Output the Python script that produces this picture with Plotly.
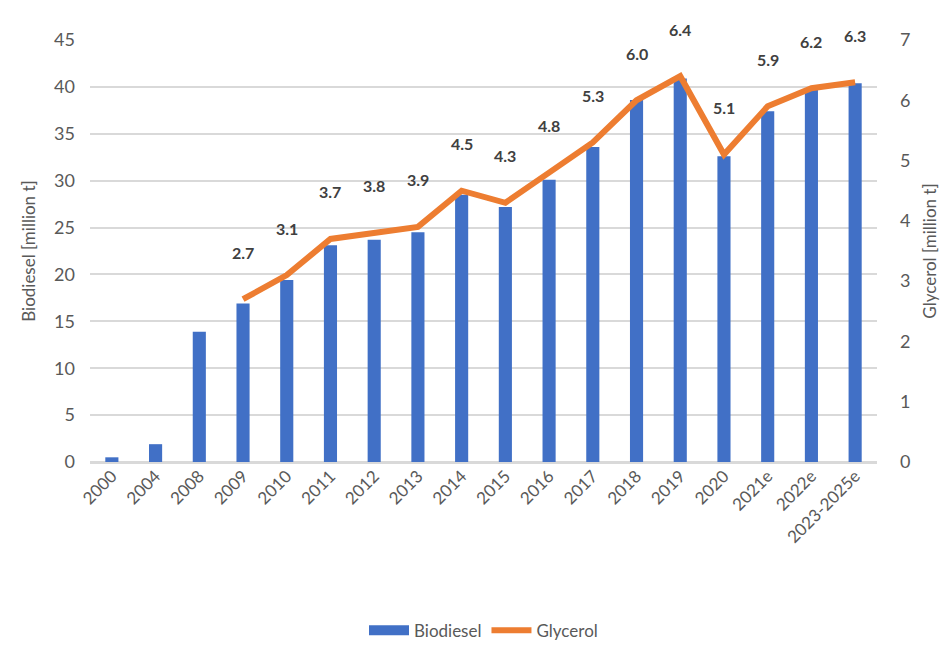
import plotly.graph_objects as go

categories = ["2000", "2004", "2008", "2009", "2010", "2011", "2012", "2013", "2014",
              "2015", "2016", "2017", "2018", "2019", "2020", "2021e", "2022e", "2023-2025e"]
biodiesel = [0.5, 1.9, 13.9, 16.9, 19.4, 23.1, 23.7, 24.5, 28.5,
             27.2, 30.1, 33.6, 38.6, 40.9, 32.6, 37.4, 39.8, 40.4]
glycerol = [None, None, None, 2.7, 3.1, 3.7, 3.8, 3.9, 4.5,
            4.3, 4.8, 5.3, 6.0, 6.4, 5.1, 5.9, 6.2, 6.3]
left_ticks = [0, 5, 10, 15, 20, 25, 30, 35, 40, 45]
right_ticks = [0, 1, 2, 3, 4, 5, 6, 7]

FONT = "Lato"
GRAY = "#595959"
BLUE = "#4170C6"
ORANGE = "#ED7D31"

fig = go.Figure()
fig.add_trace(go.Bar(x=categories, y=biodiesel, name="Biodiesel",
                     marker=dict(color=BLUE, line=dict(width=0)), width=0.3,
                     yaxis="y", showlegend=False))
fig.add_trace(go.Scatter(x=categories, y=glycerol, name="Glycerol", mode="lines",
                         line=dict(color=ORANGE, width=6), yaxis="y2",
                         connectgaps=False, showlegend=False))
# legend entries
fig.add_trace(go.Scatter(x=[None], y=[None], name="Biodiesel", mode="lines",
                         line=dict(color=BLUE, width=14), yaxis="y"))
fig.add_trace(go.Scatter(x=[None], y=[None], name="Glycerol", mode="lines",
                         line=dict(color=ORANGE, width=6), yaxis="y2"))

for i, v in enumerate(glycerol):
    if v is None:
        continue
    fig.add_annotation(x=i, y=v, xref="x", yref="y2", text=f"<b>{v:.1f}</b>",
                       showarrow=False, yshift=47,
                       font=dict(family=FONT, size=16, color="#404040"))

fig.update_layout(
    width=950, height=648,
    margin=dict(l=90, r=73, t=40, b=186, autoexpand=False),
    paper_bgcolor="white", plot_bgcolor="white",
    font=dict(family=FONT, size=16, color=GRAY),
    showlegend=True,
    legend=dict(orientation="h", x=0.5, xanchor="center", y=-0.40, yanchor="middle",
                font=dict(family=FONT, size=17, color=GRAY), itemwidth=40),
    xaxis=dict(type="category", categoryorder="array", categoryarray=categories,
               range=[-0.5, len(categories) - 0.5], automargin=False,
               tickangle=-45, showgrid=False, showline=False, ticks="",
               tickfont=dict(family=FONT, size=17, color=GRAY)),
    yaxis=dict(range=[0, 45], tickvals=left_ticks, showgrid=True, gridcolor="#D9D9D9",
               gridwidth=2, zeroline=True, zerolinecolor="#D9D9D9", zerolinewidth=2.5,
               showline=False, ticks="", ticklen=0, automargin=False,
               ticklabelstandoff=14,
               title=dict(text="Biodiesel [million t]", standoff=14,
                          font=dict(family=FONT, size=17, color=GRAY)),
               tickfont=dict(family=FONT, size=18, color=GRAY)),
    yaxis2=dict(range=[0, 7], tickvals=right_ticks, overlaying="y", side="right",
                showgrid=False, zeroline=False, showline=False, ticks="",
                automargin=False, ticklabelstandoff=22,
                title=dict(text="Glycerol [million t]", standoff=14,
                           font=dict(family=FONT, size=17, color=GRAY)),
                tickfont=dict(family=FONT, size=18, color=GRAY)),
)

fig.write_html("out.html")
